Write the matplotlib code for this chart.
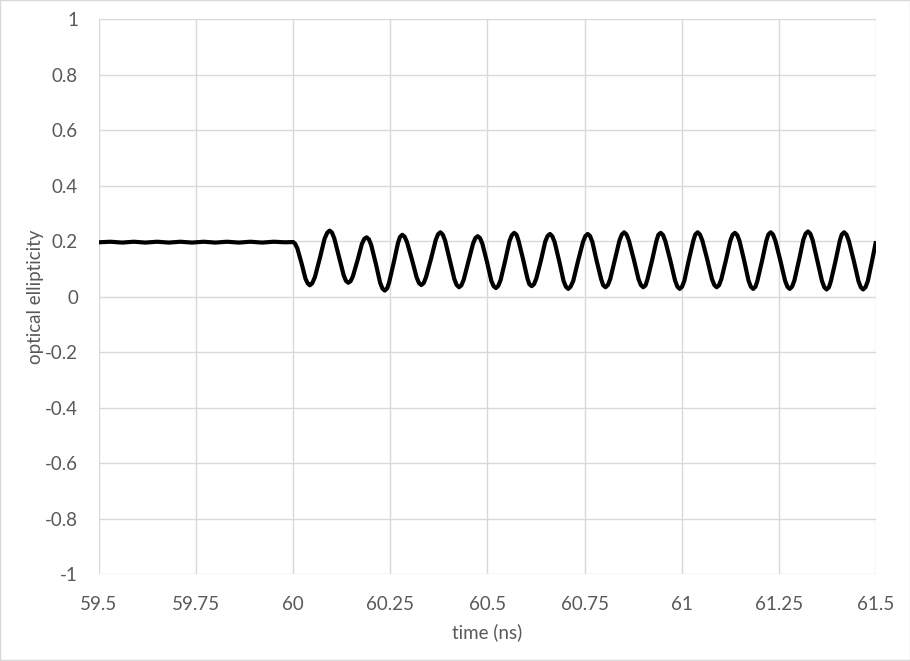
import matplotlib
matplotlib.use("Agg")
import matplotlib.pyplot as plt
from matplotlib.patches import Rectangle

# ---- data ----
flat_t = [59.50, 59.53, 59.56, 59.59, 59.62, 59.65, 59.68, 59.71, 59.74, 59.77,
          59.80, 59.83, 59.86, 59.89, 59.92, 59.95, 59.98, 60.000]
flat_v = [0.196, 0.198, 0.195, 0.198, 0.195, 0.198, 0.195, 0.198, 0.195, 0.198,
          0.195, 0.198, 0.195, 0.198, 0.195, 0.198, 0.196, 0.197]

osc_t = [60.011, 60.022, 60.032, 60.043, 60.056, 60.069, 60.081, 60.094,
         60.106, 60.118, 60.130, 60.142, 60.154, 60.166, 60.177, 60.189,
         60.201, 60.213, 60.224, 60.236, 60.247, 60.259, 60.270, 60.281,
         60.293, 60.306, 60.318, 60.330, 60.342, 60.355, 60.367, 60.379,
         60.391, 60.403, 60.415, 60.427, 60.439, 60.451, 60.463, 60.475,
         60.487, 60.499, 60.510, 60.522, 60.534, 60.546, 60.557, 60.569,
         60.580, 60.592, 60.603, 60.614, 60.626, 60.638, 60.649, 60.661,
         60.673, 60.685, 60.696, 60.708, 60.721, 60.733, 60.746, 60.758,
         60.770, 60.781, 60.793, 60.804, 60.816, 60.828, 60.840, 60.852,
         60.864, 60.877, 60.889, 60.901, 60.912, 60.924, 60.935, 60.946,
         60.958, 60.971, 60.983, 60.995, 61.007, 61.018, 61.030, 61.041,
         61.053, 61.066, 61.078, 61.090, 61.102, 61.114, 61.125, 61.137,
         61.149, 61.161, 61.172, 61.184, 61.195, 61.207, 61.218, 61.229,
         61.241, 61.254, 61.266, 61.278, 61.290, 61.302, 61.313, 61.325,
         61.337, 61.349, 61.361, 61.373, 61.384, 61.396, 61.407, 61.418,
         61.430, 61.443, 61.455, 61.467, 61.479, 61.490, 61.500]
osc_v = [0.174, 0.119, 0.064, 0.041, 0.070, 0.140, 0.209, 0.238,
         0.210, 0.144, 0.078, 0.050, 0.074, 0.132, 0.190, 0.214,
         0.186, 0.118, 0.050, 0.022, 0.051, 0.123, 0.194, 0.223,
         0.197, 0.133, 0.069, 0.042, 0.070, 0.137, 0.204, 0.232,
         0.203, 0.133, 0.063, 0.034, 0.061, 0.126, 0.191, 0.218,
         0.191, 0.125, 0.058, 0.031, 0.060, 0.131, 0.201, 0.230,
         0.202, 0.134, 0.066, 0.038, 0.066, 0.132, 0.199, 0.226,
         0.197, 0.127, 0.057, 0.028, 0.057, 0.127, 0.197, 0.226,
         0.198, 0.130, 0.062, 0.034, 0.063, 0.133, 0.203, 0.232,
         0.203, 0.133, 0.063, 0.034, 0.063, 0.132, 0.201, 0.230,
         0.200, 0.129, 0.058, 0.028, 0.058, 0.130, 0.202, 0.232,
         0.203, 0.133, 0.063, 0.034, 0.063, 0.132, 0.201, 0.230,
         0.200, 0.129, 0.058, 0.028, 0.058, 0.130, 0.202, 0.232,
         0.202, 0.130, 0.058, 0.028, 0.058, 0.132, 0.205, 0.235,
         0.204, 0.131, 0.057, 0.026, 0.056, 0.129, 0.202, 0.232,
         0.202, 0.129, 0.056, 0.026, 0.056, 0.129, 0.200]

# additional readings close to each peak / trough (rounded extremes)
near_t = [60.005, 60.038, 60.049, 60.088, 60.100, 60.136, 60.148, 60.183,
          60.195, 60.230, 60.242, 60.275, 60.287, 60.324, 60.336, 60.373,
          60.385, 60.421, 60.433, 60.469, 60.481, 60.516, 60.528, 60.563,
          60.575, 60.608, 60.620, 60.655, 60.667, 60.702, 60.714, 60.752,
          60.764, 60.798, 60.810, 60.846, 60.858, 60.895, 60.907, 60.940,
          60.952, 60.989, 61.001, 61.035, 61.047, 61.084, 61.096, 61.131,
          61.143, 61.178, 61.190, 61.223, 61.235, 61.272, 61.284, 61.319,
          61.331, 61.367, 61.379, 61.412, 61.424, 61.461, 61.473]
near_v = [0.191, 0.047, 0.048, 0.231, 0.231, 0.057, 0.056, 0.208,
          0.207, 0.029, 0.030, 0.215, 0.216, 0.049, 0.049, 0.225,
          0.224, 0.042, 0.041, 0.211, 0.211, 0.038, 0.039, 0.222,
          0.223, 0.045, 0.045, 0.219, 0.218, 0.036, 0.036, 0.218,
          0.219, 0.041, 0.042, 0.224, 0.224, 0.042, 0.041, 0.223,
          0.222, 0.036, 0.036, 0.224, 0.224, 0.042, 0.041, 0.223,
          0.222, 0.036, 0.036, 0.224, 0.224, 0.036, 0.036, 0.227,
          0.227, 0.034, 0.034, 0.224, 0.224, 0.034, 0.034]

x_ticks = [59.5, 59.75, 60, 60.25, 60.5, 60.75, 61, 61.25, 61.5]
x_tick_labels = ["59.5", "59.75", "60", "60.25", "60.5", "60.75", "61", "61.25", "61.5"]
y_ticks = [-1, -0.8, -0.6, -0.4, -0.2, 0, 0.2, 0.4, 0.6, 0.8, 1]
y_tick_labels = ["-1", "-0.8", "-0.6", "-0.4", "-0.2", "0", "0.2", "0.4", "0.6", "0.8", "1"]

x_label = "time (ns)"
y_label = "optical ellipticity"

# ---- drawing ----
plt.rcParams['font.family'] = ['Lato', 'DejaVu Sans']
text_color = "#595959"
grid_color = "#D9D9D9"
fs = 13.5

fig = plt.figure(figsize=(9.10, 6.61), dpi=100)
ax = fig.add_axes([0.1086, 0.1316, 0.8540, 0.8392])

pts = sorted(zip(flat_t + osc_t + near_t, flat_v + osc_v + near_v))
t_all = [p[0] for p in pts]
v_all = [p[1] for p in pts]
ax.plot(t_all, v_all, color="black", lw=3.0, solid_joinstyle="round",
        solid_capstyle="butt", zorder=3, clip_on=True)

ax.set_xlim(59.5, 61.5)
ax.set_ylim(-1, 1)
ax.set_xticks(x_ticks)
ax.set_xticklabels(x_tick_labels)
ax.set_yticks(y_ticks)
ax.set_yticklabels(y_tick_labels)
ax.tick_params(axis="both", length=0, labelsize=fs, labelcolor=text_color)
ax.tick_params(axis="x", pad=15.5)
ax.tick_params(axis="y", pad=15)
ax.grid(True, color=grid_color, lw=1.0)
ax.set_axisbelow(True)
for s in ax.spines.values():
    s.set_visible(False)

ax.set_xlabel(x_label, fontsize=fs, color=text_color, labelpad=8)
ax.set_ylabel(y_label, fontsize=fs, color=text_color, labelpad=0.5)

# figure border
fig.patches.append(Rectangle((0.0005, 0.0008), 0.999, 0.9985, transform=fig.transFigure,
                             fill=False, edgecolor=grid_color, lw=1.0))

fig.savefig("out.png", dpi=100)
